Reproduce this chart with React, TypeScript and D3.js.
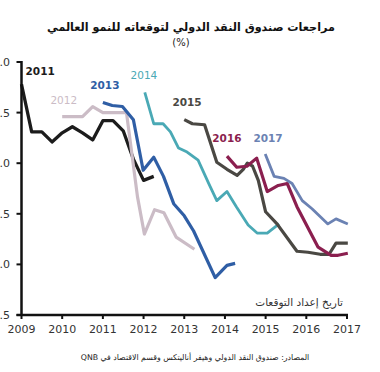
import React from "react";
import * as d3 from "d3";

const W = 380;
const H = 372;

const titleText = "مراجعات صندوق النقد الدولي لتوقعاته للنمو العالمي";
const unitText = "(%)";
const axisTitle = "تاريخ إعداد التوقعات";
const sourceText = "المصادر: صندوق النقد الدولي وهيفر أناليتكس وقسم الاقتصاد في QNB";

const xTicks = [2009, 2010, 2011, 2012, 2013, 2014, 2015, 2016, 2017];
const yTicks = [1.5, 2.0, 2.5, 3.0, 3.5, 4.0];

const seriesNames = ["2011", "2012", "2013", "2014", "2015", "2016", "2017"];

const s2011: [number, number][] = [
  [2009.0, 3.78], [2009.25, 3.31], [2009.5, 3.31], [2009.75, 3.21], [2010.0, 3.3],
  [2010.25, 3.36], [2010.5, 3.3], [2010.75, 3.23], [2011.0, 3.42], [2011.25, 3.42],
  [2011.5, 3.32], [2011.75, 3.04], [2012.0, 2.83], [2012.25, 2.87],
];
const s2012: [number, number][] = [
  [2010.0, 3.46], [2010.5, 3.46], [2010.75, 3.56], [2011.0, 3.5], [2011.58, 3.5],
  [2011.85, 2.67], [2012.02, 2.3], [2012.27, 2.54], [2012.5, 2.51], [2012.8, 2.27],
  [2013.25, 2.15],
];
const s2013: [number, number][] = [
  [2011.0, 3.6], [2011.23, 3.57], [2011.48, 3.56], [2011.75, 3.43], [2011.99, 2.93],
  [2012.25, 3.06], [2012.49, 2.87], [2012.74, 2.6], [2013.0, 2.48], [2013.23, 2.33],
  [2013.76, 1.87], [2014.05, 1.99], [2014.25, 2.01],
];
const s2014: [number, number][] = [
  [2012.03, 3.7], [2012.25, 3.39], [2012.48, 3.39], [2012.66, 3.31], [2012.86, 3.15],
  [2013.07, 3.11], [2013.34, 3.03], [2013.6, 2.8], [2013.8, 2.63], [2014.05, 2.72],
  [2014.28, 2.57], [2014.57, 2.39], [2014.79, 2.31], [2015.04, 2.31], [2015.33, 2.4],
];
const s2015: [number, number][] = [
  [2013.0, 3.43], [2013.2, 3.39], [2013.5, 3.38], [2013.8, 3.01], [2014.05, 2.94],
  [2014.3, 2.88], [2014.45, 2.94], [2014.55, 3.0], [2014.68, 2.97], [2014.82, 2.83],
  [2015.0, 2.52], [2015.28, 2.4], [2015.77, 2.13], [2016.04, 2.12], [2016.34, 2.1],
  [2016.56, 2.1], [2016.73, 2.21], [2017.02, 2.21],
];
const s2016: [number, number][] = [
  [2014.05, 3.07], [2014.29, 2.96], [2014.54, 2.97], [2014.78, 3.05], [2015.04, 2.72],
  [2015.31, 2.78], [2015.53, 2.8], [2015.77, 2.57], [2016.29, 2.17], [2016.61, 2.09],
  [2016.78, 2.09], [2017.02, 2.11],
];
const s2017: [number, number][] = [
  [2014.99, 3.09], [2015.21, 2.87], [2015.45, 2.85], [2015.65, 2.8], [2015.9, 2.63],
  [2016.14, 2.55], [2016.53, 2.4], [2016.73, 2.45], [2017.02, 2.4],
];

const seriesData = [s2011, s2012, s2013, s2014, s2015, s2016, s2017];

// styling (kept separate from data)
const colors = ["#1c1c1c", "#cbbcc6", "#2f5ea5", "#4aa9b5", "#4a4843", "#8b1f4f", "#6b82b3"];
const widths = [3.3, 3.2, 3.2, 2.8, 3.2, 3.2, 2.8];
const labelWeights = [700, 400, 700, 400, 700, 700, 700];
// label anchor in data units (year, value)
const labelAnchors: [number, number][] = [
  [2009.1, 3.87], [2009.71, 3.585], [2010.69, 3.73], [2011.68, 3.83],
  [2012.71, 3.565], [2013.69, 3.21], [2014.7, 3.21],
];

export default function App() {
  const x = d3.scaleLinear().domain([2009, 2017]).range([21.5, 347]);
  const y = d3.scaleLinear().domain([1.5, 4.0]).range([315, 62]);
  const line = d3
    .line<[number, number]>()
    .x((d) => x(d[0]))
    .y((d) => y(d[1]));

  const axisFont = "DejaVu Sans, Verdana, sans-serif";

  return (
    <svg
      width={W}
      height={H}
      viewBox={`0 0 ${W} ${H}`}
      style={{ position: "absolute", left: 0, top: 0, background: "#fff" }}
    >
      <rect x={0} y={0} width={W} height={H} fill="#fff" />
      <text
        x={191}
        y={31}
        textAnchor="middle"
        fontFamily="DejaVu Sans, sans-serif"
        fontWeight={700}
        fontSize={11.2}
        fill="#111"
        direction="rtl"
      >
        {titleText}
      </text>
      <text
        x={181}
        y={46}
        textAnchor="middle"
        fontFamily="DejaVu Sans, sans-serif"
        fontSize={10}
        fill="#222"
      >
        {unitText}
      </text>

      {/* series */}
      {seriesData.map((s, i) => (
        <path
          key={seriesNames[i]}
          d={line(s) || ""}
          fill="none"
          stroke={colors[i]}
          strokeWidth={widths[i]}
          strokeLinejoin="round"
          strokeLinecap="butt"
        />
      ))}

      {/* series labels */}
      {seriesNames.map((n, i) => (
        <text
          key={"l" + n}
          x={x(labelAnchors[i][0])}
          y={y(labelAnchors[i][1])}
          fontFamily={axisFont}
          fontWeight={labelWeights[i]}
          fontSize={10.5}
          fill={colors[i]}
        >
          {n}
        </text>
      ))}

      {/* y axis */}
      <line x1={x(2009)} x2={x(2009)} y1={y(4.0) - 1} y2={y(1.5) + 1} stroke="#111" strokeWidth={2.5} />
      {yTicks.map((t) => (
        <g key={"y" + t}>
          <line x1={x(2009) - 5} x2={x(2009)} y1={y(t)} y2={y(t)} stroke="#111" strokeWidth={2} />
          <text
            x={10}
            y={y(t) + 4}
            textAnchor="end"
            fontFamily={axisFont}
            fontSize={11}
            fill="#333"
          >
            {t.toFixed(1)}
          </text>
        </g>
      ))}

      {/* x axis */}
      <line x1={x(2009) - 5} x2={x(2017) + 1} y1={y(1.5)} y2={y(1.5)} stroke="#111" strokeWidth={2.5} />
      {xTicks.map((t) => (
        <g key={"x" + t}>
          <line x1={x(t)} x2={x(t)} y1={y(1.5) - 1} y2={y(1.5) + 4} stroke="#111" strokeWidth={2} />
          <text
            x={x(t)}
            y={y(1.5) + 18}
            textAnchor="middle"
            fontFamily={axisFont}
            fontSize={11}
            fill="#333"
          >
            {t}
          </text>
        </g>
      ))}

      <text
        x={343}
        y={306}
        textAnchor="start"
        fontFamily="DejaVu Sans, sans-serif"
        fontSize={10.5}
        fill="#333"
        direction="rtl"
      >
        {axisTitle}
      </text>

      <text
        x={195}
        y={360}
        textAnchor="middle"
        fontFamily="DejaVu Sans, sans-serif"
        fontSize={7.8}
        fill="#222"
        direction="rtl"
      >
        {sourceText}
      </text>
    </svg>
  );
}
